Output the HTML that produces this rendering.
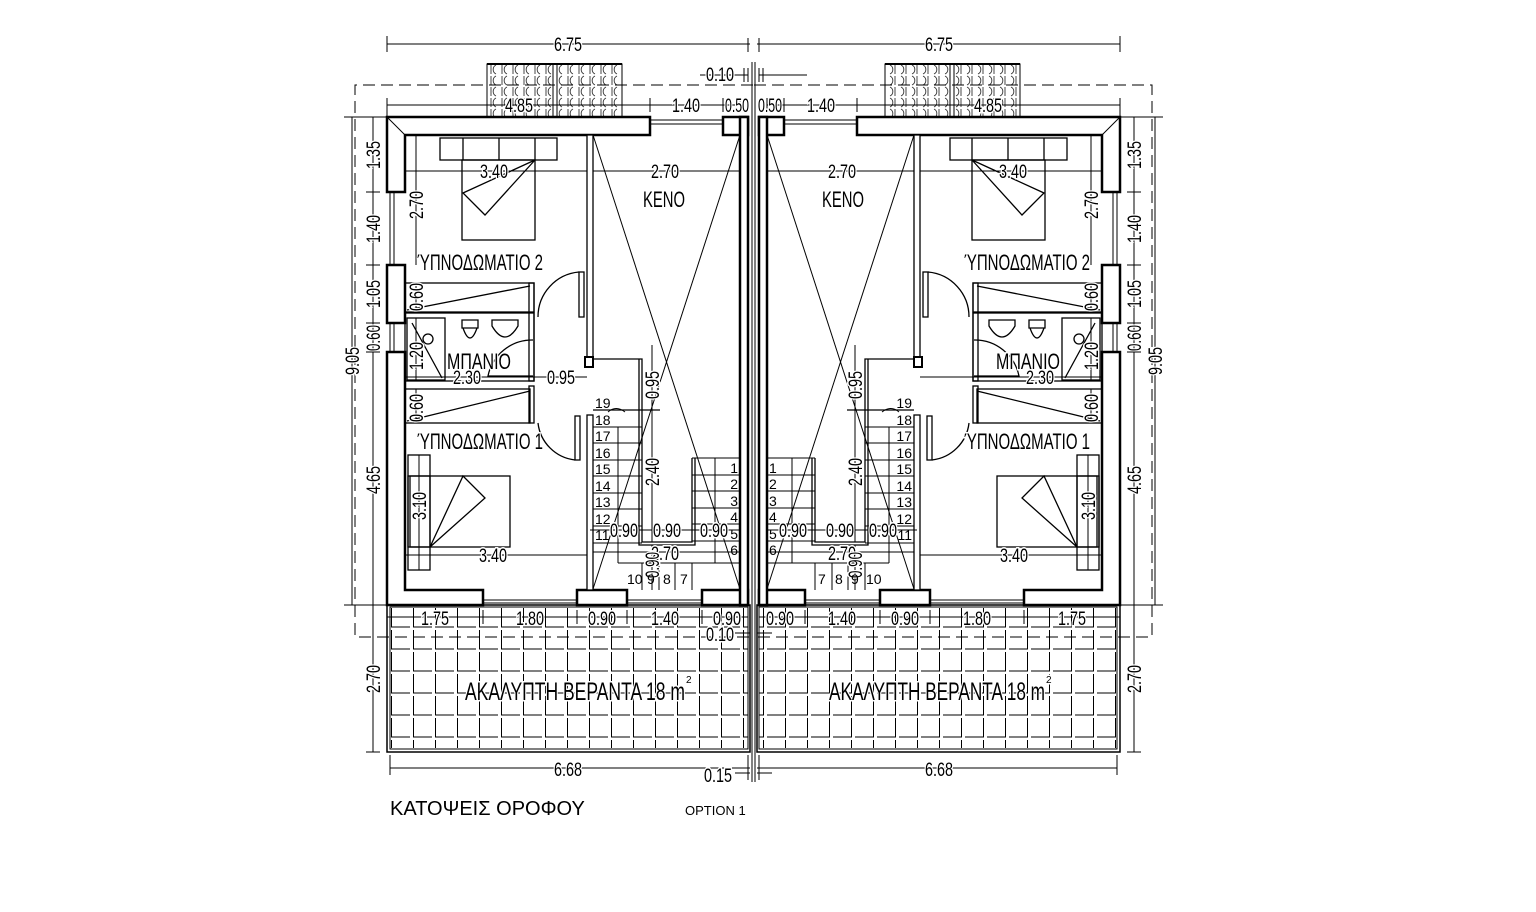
<!DOCTYPE html>
<html><head><meta charset="utf-8"><style>
html,body{margin:0;padding:0;background:#fff;}
svg{display:block;}
text{font-family:"Liberation Sans",sans-serif;fill:#000;}
.w text{paint-order:stroke;stroke:#fff;stroke-width:3px;}
</style></head><body>
<svg width="1536" height="912" viewBox="0 0 1536 912" xmlns="http://www.w3.org/2000/svg">
<defs>
<pattern id="tile" x="390" y="607" width="22" height="22" patternUnits="userSpaceOnUse">
<path d="M1.5,1 V20 H20" fill="none" stroke="#000" stroke-width="1"/>
</pattern>
<pattern id="roof" x="487" y="64" width="11" height="11" patternUnits="userSpaceOnUse">
<path d="M9,1 A5,5 0 0 0 9,10 M4,1 V10" fill="none" stroke="#333" stroke-width="0.9"/>
</pattern>
<g id="L" fill="none" stroke="#000">
  <rect x="487" y="64" width="135" height="53" fill="url(#roof)" stroke="#000" stroke-width="1"/>
  <line x1="487" y1="64" x2="622" y2="64" stroke-width="2"/>
  <line x1="553" y1="64" x2="553" y2="117" stroke-width="1"/><line x1="557" y1="64" x2="557" y2="117" stroke-width="1"/>
  <g stroke-width="2.5" fill="#fff">
    <path d="M650,117 H387 V192 H405 V135 H650 Z"/>
    <path d="M723,117 H748 V135 H723 Z"/>
    <path d="M387,265 H405 V323 H387 Z"/>
    <path d="M387,352 H405 V590 H483 V605 H387 Z"/>
    <path d="M577,590 H627 V605 H577 Z"/>
    <path d="M702,590 H748 V605 H702 Z"/>
    <rect x="740" y="117" width="8" height="488"/>
  </g>
  <g stroke-width="1">
    <line x1="650" y1="120" x2="723" y2="120"/><line x1="650" y1="124" x2="723" y2="124"/>
    <line x1="390" y1="192" x2="390" y2="265"/><line x1="394" y1="192" x2="394" y2="265"/>
    <line x1="390" y1="323" x2="390" y2="352"/><line x1="394" y1="323" x2="394" y2="352"/>
    <line x1="483" y1="600" x2="577" y2="600"/><line x1="483" y1="603" x2="577" y2="603"/>
    <line x1="627" y1="600" x2="702" y2="600"/><line x1="627" y1="603" x2="702" y2="603"/>
    <line x1="752" y1="62" x2="752" y2="782"/>
    <line x1="387" y1="117" x2="405" y2="135"/>
  </g>
  <path d="M753,85 H355 V637 H753" stroke-width="1" stroke-dasharray="12,6"/>
  <g stroke-width="1.3">
    <rect x="587" y="135" width="6" height="225" fill="#fff"/>
    <rect x="585" y="357" width="8" height="10" fill="#fff" stroke-width="2"/>
    <rect x="579" y="272" width="5" height="45"/>
    <path d="M579,272 A45,45 0 0 0 538,317"/>
    <rect x="405" y="283" width="129" height="29"/>
    <line x1="407" y1="310" x2="530" y2="286"/>
    <rect x="529" y="283" width="5" height="98"/>
    <rect x="405" y="313" width="129" height="68"/>
    <rect x="407" y="318" width="38" height="62"/>
    <line x1="412" y1="323" x2="442" y2="378"/>
    <circle cx="428" cy="339" r="5"/>
    <path d="M462,320 h16 v8 h-16 z M463,328 q7,20 14,0"/>
    <path d="M492,320 h26 v6 q-13,22 -26,0 z"/>
    <path d="M533,340 A45,45 0 0 0 488,376 H533"/>
    <rect x="405" y="389" width="125" height="34"/>
    <line x1="407" y1="421" x2="530" y2="391"/>
    <rect x="529" y="386" width="5" height="37"/>
    <rect x="575" y="416" width="5" height="44"/>
    <path d="M575,460 A42,42 0 0 1 538,423"/>
    <rect x="440" y="138" width="117" height="22"/>
    <line x1="463" y1="138" x2="463" y2="160"/><line x1="499" y1="138" x2="499" y2="160"/><line x1="535" y1="138" x2="535" y2="160"/>
    <rect x="462" y="160" width="73" height="80"/>
    <path d="M535,160 L463,193 L485,215 Z"/>
    <rect x="408" y="455" width="22" height="115"/>
    <rect x="408" y="476" width="102" height="71"/>
    <rect x="410" y="476" width="20" height="71"/>
    <path d="M430,547 L463,476 L485,498 Z"/>
    <rect x="587" y="415" width="6" height="175" fill="#fff"/>
    <path d="M593,359 H642 V542 H692 V458"/>
    <path d="M639,359 V545 H695 V458"/>
    <line x1="593" y1="410" x2="660" y2="410"/>
    <g stroke-width="1">
    <line x1="593" y1="427" x2="642" y2="427"/><line x1="593" y1="443" x2="642" y2="443"/>
    <line x1="593" y1="460" x2="642" y2="460"/><line x1="593" y1="476" x2="642" y2="476"/>
    <line x1="593" y1="493" x2="642" y2="493"/><line x1="593" y1="509" x2="642" y2="509"/>
    <line x1="593" y1="526" x2="642" y2="526"/><line x1="593" y1="543" x2="642" y2="543"/>
    <line x1="618" y1="427" x2="618" y2="563"/>
    <line x1="618" y1="563" x2="740" y2="563"/>
    <line x1="642" y1="563" x2="642" y2="590"/><line x1="659" y1="563" x2="659" y2="590"/>
    <line x1="675" y1="563" x2="675" y2="590"/><line x1="692" y1="563" x2="692" y2="590"/>
    <line x1="692" y1="458" x2="740" y2="458"/><line x1="692" y1="475" x2="740" y2="475"/>
    <line x1="692" y1="491" x2="740" y2="491"/><line x1="692" y1="508" x2="740" y2="508"/>
    <line x1="692" y1="524" x2="740" y2="524"/><line x1="692" y1="541" x2="740" y2="541"/>
    <line x1="715" y1="458" x2="715" y2="563"/>
    <path d="M608,412 Q616,405 625,412"/>
    <line x1="593" y1="135" x2="740" y2="589"/>
    <line x1="740" y1="135" x2="593" y2="589"/>
    </g>
  </g>
  <rect x="390" y="607" width="358" height="141" fill="url(#tile)" stroke="none"/>
  <rect x="387" y="605" width="363" height="147" stroke-width="1.5"/>
  <rect x="390" y="607" width="358" height="142" stroke-width="1"/>
  <g stroke-width="1">
    <line x1="387" y1="44" x2="750" y2="44"/><line x1="387" y1="36" x2="387" y2="52"/><line x1="748" y1="38" x2="748" y2="52"/>
    <line x1="387" y1="105" x2="740" y2="105"/><line x1="387" y1="98" x2="387" y2="117"/><line x1="650" y1="98" x2="650" y2="112"/><line x1="723" y1="98" x2="723" y2="112"/><line x1="740" y1="98" x2="740" y2="112"/>
    <line x1="700" y1="75" x2="748" y2="75"/><line x1="744" y1="68" x2="744" y2="82"/><line x1="748" y1="68" x2="748" y2="82"/>
    <line x1="373" y1="117" x2="373" y2="752"/>
    <line x1="366" y1="117" x2="380" y2="117"/><line x1="366" y1="192" x2="380" y2="192"/><line x1="366" y1="265" x2="380" y2="265"/><line x1="366" y1="323" x2="380" y2="323"/><line x1="366" y1="352" x2="380" y2="352"/><line x1="366" y1="605" x2="380" y2="605"/><line x1="366" y1="752" x2="380" y2="752"/>
    <line x1="352" y1="117" x2="352" y2="605"/><line x1="344" y1="117" x2="387" y2="117"/><line x1="344" y1="605" x2="387" y2="605"/>
    <line x1="405" y1="171" x2="587" y2="171"/><line x1="593" y1="171" x2="740" y2="171"/>
    <line x1="416" y1="135" x2="416" y2="265"/>
    <line x1="416" y1="283" x2="416" y2="312"/><line x1="416" y1="318" x2="416" y2="381"/><line x1="416" y1="389" x2="416" y2="423"/>
    <line x1="405" y1="377" x2="534" y2="377"/><line x1="534" y1="377" x2="587" y2="377"/>
    <line x1="405" y1="555" x2="587" y2="555"/><line x1="419" y1="455" x2="419" y2="570"/>
    <line x1="652" y1="410" x2="652" y2="542"/><line x1="652" y1="345" x2="652" y2="410"/>
    <line x1="590" y1="530" x2="740" y2="530"/><line x1="593" y1="552" x2="740" y2="552"/><line x1="652" y1="545" x2="652" y2="590"/>
    <line x1="387" y1="617" x2="748" y2="617"/>
    <line x1="387" y1="610" x2="387" y2="624"/><line x1="483" y1="610" x2="483" y2="624"/><line x1="577" y1="610" x2="577" y2="624"/><line x1="627" y1="610" x2="627" y2="624"/><line x1="702" y1="610" x2="702" y2="624"/><line x1="748" y1="610" x2="748" y2="624"/>
    <line x1="735" y1="633" x2="750" y2="633"/>
    <line x1="390" y1="768" x2="750" y2="768"/><line x1="390" y1="755" x2="390" y2="775"/><line x1="748" y1="755" x2="748" y2="780"/>
    <line x1="735" y1="773" x2="750" y2="773"/>
  </g>
</g>
</defs>
<use href="#L"/>
<use href="#L" transform="translate(1507,0) scale(-1,1)"/>

<g class="w" font-size="19" text-anchor="middle">
<text x="568" y="51" textLength="28" lengthAdjust="spacingAndGlyphs">6.75</text>
<text x="939" y="51" textLength="28" lengthAdjust="spacingAndGlyphs">6.75</text>
<text x="720" y="81" textLength="28" lengthAdjust="spacingAndGlyphs">0.10</text>
<text x="519" y="112" textLength="28" lengthAdjust="spacingAndGlyphs">4.85</text>
<text x="988" y="112" textLength="28" lengthAdjust="spacingAndGlyphs">4.85</text>
<text x="686" y="112" textLength="28" lengthAdjust="spacingAndGlyphs">1.40</text>
<text x="821" y="112" textLength="28" lengthAdjust="spacingAndGlyphs">1.40</text>
<text x="737" y="112" textLength="24" lengthAdjust="spacingAndGlyphs">0.50</text>
<text x="770" y="112" textLength="24" lengthAdjust="spacingAndGlyphs">0.50</text>
<text x="494" y="178" textLength="28" lengthAdjust="spacingAndGlyphs">3.40</text>
<text x="1013" y="178" textLength="28" lengthAdjust="spacingAndGlyphs">3.40</text>
<text x="665" y="178" textLength="28" lengthAdjust="spacingAndGlyphs">2.70</text>
<text x="842" y="178" textLength="28" lengthAdjust="spacingAndGlyphs">2.70</text>
<text x="664" y="207" font-size="22" textLength="42" lengthAdjust="spacingAndGlyphs">KENO</text>
<text x="843" y="207" font-size="22" textLength="42" lengthAdjust="spacingAndGlyphs">KENO</text>
<text x="480" y="270" font-size="22" textLength="126" lengthAdjust="spacingAndGlyphs">ΎΠΝΟΔΩΜΑΤΙΟ 2</text>
<text x="1027" y="270" font-size="22" textLength="126" lengthAdjust="spacingAndGlyphs">ΎΠΝΟΔΩΜΑΤΙΟ 2</text>
<text x="479" y="369" font-size="22" textLength="64" lengthAdjust="spacingAndGlyphs">ΜΠΑΝΙΟ</text>
<text x="1028" y="369" font-size="22" textLength="64" lengthAdjust="spacingAndGlyphs">ΜΠΑΝΙΟ</text>
<text x="467" y="384" textLength="28" lengthAdjust="spacingAndGlyphs">2.30</text>
<text x="1040" y="384" textLength="28" lengthAdjust="spacingAndGlyphs">2.30</text>
<text x="561" y="384" textLength="28" lengthAdjust="spacingAndGlyphs">0.95</text>
<text x="480" y="449" font-size="22" textLength="126" lengthAdjust="spacingAndGlyphs">ΎΠΝΟΔΩΜΑΤΙΟ 1</text>
<text x="1027" y="449" font-size="22" textLength="126" lengthAdjust="spacingAndGlyphs">ΎΠΝΟΔΩΜΑΤΙΟ 1</text>
<text x="493" y="562" textLength="28" lengthAdjust="spacingAndGlyphs">3.40</text>
<text x="1014" y="562" textLength="28" lengthAdjust="spacingAndGlyphs">3.40</text>
<text x="624" y="537" textLength="28" lengthAdjust="spacingAndGlyphs">0.90</text>
<text x="667" y="537" textLength="28" lengthAdjust="spacingAndGlyphs">0.90</text>
<text x="714" y="537" textLength="28" lengthAdjust="spacingAndGlyphs">0.90</text>
<text x="883" y="537" textLength="28" lengthAdjust="spacingAndGlyphs">0.90</text>
<text x="840" y="537" textLength="28" lengthAdjust="spacingAndGlyphs">0.90</text>
<text x="793" y="537" textLength="28" lengthAdjust="spacingAndGlyphs">0.90</text>
<text x="665" y="560" textLength="28" lengthAdjust="spacingAndGlyphs">2.70</text>
<text x="842" y="560" textLength="28" lengthAdjust="spacingAndGlyphs">2.70</text>
<text x="435" y="625" textLength="28" lengthAdjust="spacingAndGlyphs">1.75</text>
<text x="530" y="625" textLength="28" lengthAdjust="spacingAndGlyphs">1.80</text>
<text x="602" y="625" textLength="28" lengthAdjust="spacingAndGlyphs">0.90</text>
<text x="665" y="625" textLength="28" lengthAdjust="spacingAndGlyphs">1.40</text>
<text x="727" y="625" textLength="28" lengthAdjust="spacingAndGlyphs">0.90</text>
<text x="720" y="641" textLength="28" lengthAdjust="spacingAndGlyphs">0.10</text>
<text x="1072" y="625" textLength="28" lengthAdjust="spacingAndGlyphs">1.75</text>
<text x="977" y="625" textLength="28" lengthAdjust="spacingAndGlyphs">1.80</text>
<text x="905" y="625" textLength="28" lengthAdjust="spacingAndGlyphs">0.90</text>
<text x="842" y="625" textLength="28" lengthAdjust="spacingAndGlyphs">1.40</text>
<text x="780" y="625" textLength="28" lengthAdjust="spacingAndGlyphs">0.90</text>
<text x="568" y="776" textLength="28" lengthAdjust="spacingAndGlyphs">6.68</text>
<text x="939" y="776" textLength="28" lengthAdjust="spacingAndGlyphs">6.68</text>
<text x="718" y="782" textLength="28" lengthAdjust="spacingAndGlyphs">0.15</text>
</g>
<g class="w" font-size="25" text-anchor="start">
<text x="465" y="700" textLength="220" lengthAdjust="spacingAndGlyphs">ΑΚΑΛΥΠΤΗ  ΒΕΡΑΝΤΑ 18  m</text>
<text x="829" y="700" textLength="216" lengthAdjust="spacingAndGlyphs">ΑΚΑΛΥΠΤΗ  ΒΕΡΑΝΤΑ 18  m</text>
<text x="686" y="683" font-size="10">2</text>
<text x="1046" y="683" font-size="10">2</text>
</g>
<g class="w" font-size="19" text-anchor="middle">
<text transform="translate(380,155) rotate(-90)" textLength="28" lengthAdjust="spacingAndGlyphs">1.35</text>
<text transform="translate(380,229) rotate(-90)" textLength="28" lengthAdjust="spacingAndGlyphs">1.40</text>
<text transform="translate(380,294) rotate(-90)" textLength="28" lengthAdjust="spacingAndGlyphs">1.05</text>
<text transform="translate(380,338) rotate(-90)" textLength="26" lengthAdjust="spacingAndGlyphs">0.60</text>
<text transform="translate(380,480) rotate(-90)" textLength="28" lengthAdjust="spacingAndGlyphs">4.65</text>
<text transform="translate(380,679) rotate(-90)" textLength="28" lengthAdjust="spacingAndGlyphs">2.70</text>
<text transform="translate(359,361) rotate(-90)" textLength="28" lengthAdjust="spacingAndGlyphs">9.05</text>
<text transform="translate(1141,155) rotate(-90)" textLength="28" lengthAdjust="spacingAndGlyphs">1.35</text>
<text transform="translate(1141,229) rotate(-90)" textLength="28" lengthAdjust="spacingAndGlyphs">1.40</text>
<text transform="translate(1141,294) rotate(-90)" textLength="28" lengthAdjust="spacingAndGlyphs">1.05</text>
<text transform="translate(1141,338) rotate(-90)" textLength="26" lengthAdjust="spacingAndGlyphs">0.60</text>
<text transform="translate(1141,480) rotate(-90)" textLength="28" lengthAdjust="spacingAndGlyphs">4.65</text>
<text transform="translate(1141,679) rotate(-90)" textLength="28" lengthAdjust="spacingAndGlyphs">2.70</text>
<text transform="translate(1162,361) rotate(-90)" textLength="28" lengthAdjust="spacingAndGlyphs">9.05</text>
<text transform="translate(423,205) rotate(-90)" textLength="28" lengthAdjust="spacingAndGlyphs">2.70</text>
<text transform="translate(1098,205) rotate(-90)" textLength="28" lengthAdjust="spacingAndGlyphs">2.70</text>
<text transform="translate(423,297) rotate(-90)" textLength="28" lengthAdjust="spacingAndGlyphs">0.60</text>
<text transform="translate(1098,297) rotate(-90)" textLength="28" lengthAdjust="spacingAndGlyphs">0.60</text>
<text transform="translate(423,356) rotate(-90)" textLength="28" lengthAdjust="spacingAndGlyphs">1.20</text>
<text transform="translate(1098,356) rotate(-90)" textLength="28" lengthAdjust="spacingAndGlyphs">1.20</text>
<text transform="translate(423,408) rotate(-90)" textLength="28" lengthAdjust="spacingAndGlyphs">0.60</text>
<text transform="translate(1098,408) rotate(-90)" textLength="28" lengthAdjust="spacingAndGlyphs">0.60</text>
<text transform="translate(426,506) rotate(-90)" textLength="28" lengthAdjust="spacingAndGlyphs">3.10</text>
<text transform="translate(1095,506) rotate(-90)" textLength="28" lengthAdjust="spacingAndGlyphs">3.10</text>
<text transform="translate(659,385) rotate(-90)" textLength="28" lengthAdjust="spacingAndGlyphs">0.95</text>
<text transform="translate(862,385) rotate(-90)" textLength="28" lengthAdjust="spacingAndGlyphs">0.95</text>
<text transform="translate(659,472) rotate(-90)" textLength="28" lengthAdjust="spacingAndGlyphs">2.40</text>
<text transform="translate(862,472) rotate(-90)" textLength="28" lengthAdjust="spacingAndGlyphs">2.40</text>
<text transform="translate(659,565) rotate(-90)" textLength="26" lengthAdjust="spacingAndGlyphs">0.90</text>
<text transform="translate(862,565) rotate(-90)" textLength="26" lengthAdjust="spacingAndGlyphs">0.90</text>
</g>
<g font-size="14">
<text x="595" y="408">19</text><text x="595" y="425">18</text><text x="595" y="441">17</text><text x="595" y="458">16</text><text x="595" y="474">15</text><text x="595" y="491">14</text><text x="595" y="507">13</text><text x="595" y="524">12</text><text x="595" y="540">11</text>
<text x="738" y="473" text-anchor="end">1</text><text x="738" y="489" text-anchor="end">2</text><text x="738" y="506" text-anchor="end">3</text><text x="738" y="522" text-anchor="end">4</text><text x="738" y="539" text-anchor="end">5</text><text x="738" y="555" text-anchor="end">6</text>
<text x="627" y="584">10</text><text x="647" y="584">9</text><text x="663" y="584">8</text><text x="680" y="584">7</text>
<text x="912" y="408" text-anchor="end">19</text><text x="912" y="425" text-anchor="end">18</text><text x="912" y="441" text-anchor="end">17</text><text x="912" y="458" text-anchor="end">16</text><text x="912" y="474" text-anchor="end">15</text><text x="912" y="491" text-anchor="end">14</text><text x="912" y="507" text-anchor="end">13</text><text x="912" y="524" text-anchor="end">12</text><text x="912" y="540" text-anchor="end">11</text>
<text x="769" y="473">1</text><text x="769" y="489">2</text><text x="769" y="506">3</text><text x="769" y="522">4</text><text x="769" y="539">5</text><text x="769" y="555">6</text>
<text x="818" y="584">7</text><text x="835" y="584">8</text><text x="851" y="584">9</text><text x="866" y="584">10</text>
</g>
<text x="390" y="815" font-size="20">ΚΑΤΟΨΕΙΣ ΟΡΟΦΟΥ</text>
<text x="685" y="815" font-size="13">OPTION 1</text>
</svg>
</body></html>
